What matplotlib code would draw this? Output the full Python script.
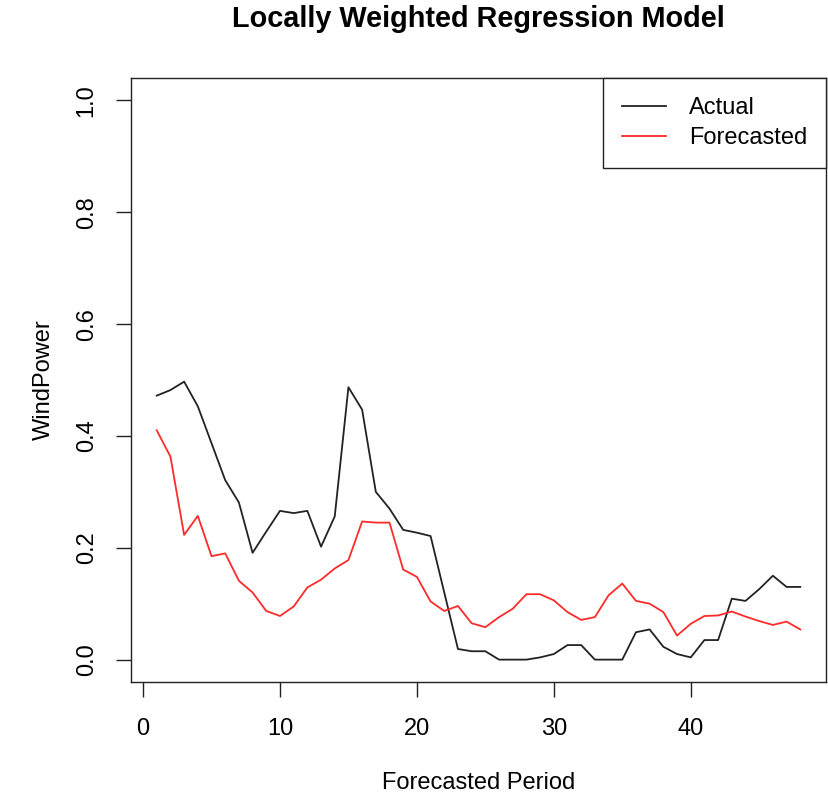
import matplotlib
matplotlib.use("Agg")
import matplotlib.pyplot as plt

plt.rcParams['font.family'] = ['Liberation Sans', 'DejaVu Sans']

period = list(range(1, 49))
actual = [0.472, 0.482, 0.497, 0.453, 0.387, 0.321, 0.281, 0.191, 0.229, 0.266,
          0.262, 0.266, 0.202, 0.256, 0.487, 0.447, 0.300, 0.270, 0.232, 0.227,
          0.221, 0.120, 0.019, 0.015, 0.015, 0.000, 0.000, 0.000, 0.004, 0.010,
          0.026, 0.026, 0.000, 0.000, 0.000, 0.049, 0.054, 0.023, 0.010, 0.004,
          0.035, 0.035, 0.109, 0.105, 0.126, 0.150, 0.130, 0.130]
forecast = [0.410, 0.363, 0.223, 0.257, 0.185, 0.190, 0.141, 0.120, 0.087, 0.078,
            0.095, 0.129, 0.143, 0.163, 0.178, 0.247, 0.245, 0.245, 0.161, 0.148,
            0.104, 0.087, 0.096, 0.065, 0.058, 0.076, 0.091, 0.117, 0.117, 0.106,
            0.085, 0.071, 0.076, 0.115, 0.136, 0.105, 0.100, 0.085, 0.043, 0.064,
            0.078, 0.079, 0.086, 0.077, 0.069, 0.062, 0.068, 0.054]
xticks = [0, 10, 20, 30, 40]
yticks = [0.0, 0.2, 0.4, 0.6, 0.8, 1.0]

W, H = 829, 795
fig = plt.figure(figsize=(W / 100, H / 100), dpi=100)
L, R, T, B = 131, 826, 78, 682
ax = fig.add_axes([L / W, 1 - B / H, (R - L) / W, (B - T) / H])

ax.plot(period, actual, color='#222222', lw=1.3, label='Actual')
ax.plot(period, forecast, color='#ff2a2a', lw=1.3, label='Forecasted')

ax.set_xlim(1 - 0.04 * 47, 48 + 0.04 * 47)
ax.set_ylim(-0.04, 1.04)
ax.set_xticks(xticks)
ax.set_xticklabels([str(t) for t in xticks])
ax.set_yticks(yticks)
ax.set_yticklabels(['%.1f' % t for t in yticks], rotation=90, va='center')
ax.tick_params(direction='out', length=11, width=1.0, labelsize=17, color='#222222')
ax.tick_params(axis='x', pad=15)
ax.tick_params(axis='y', pad=13)
for s in ax.spines.values():
    s.set_linewidth(1.0)
    s.set_color('#222222')

ax.set_title('Locally Weighted Regression Model', fontsize=20.8, fontweight='bold', pad=37)
ax.set_xlabel('Forecasted Period', fontsize=17, labelpad=23)
ax.set_ylabel('WindPower', fontsize=17, labelpad=15)

leg = ax.legend(loc='upper right', fontsize=17, frameon=True, fancybox=False,
                edgecolor='#222222', framealpha=1, borderaxespad=0,
                handlelength=1.9, handletextpad=0.95, borderpad=0.8, labelspacing=0.36)
leg.get_frame().set_linewidth(1.0)

fig.savefig('out.png', dpi=100)
